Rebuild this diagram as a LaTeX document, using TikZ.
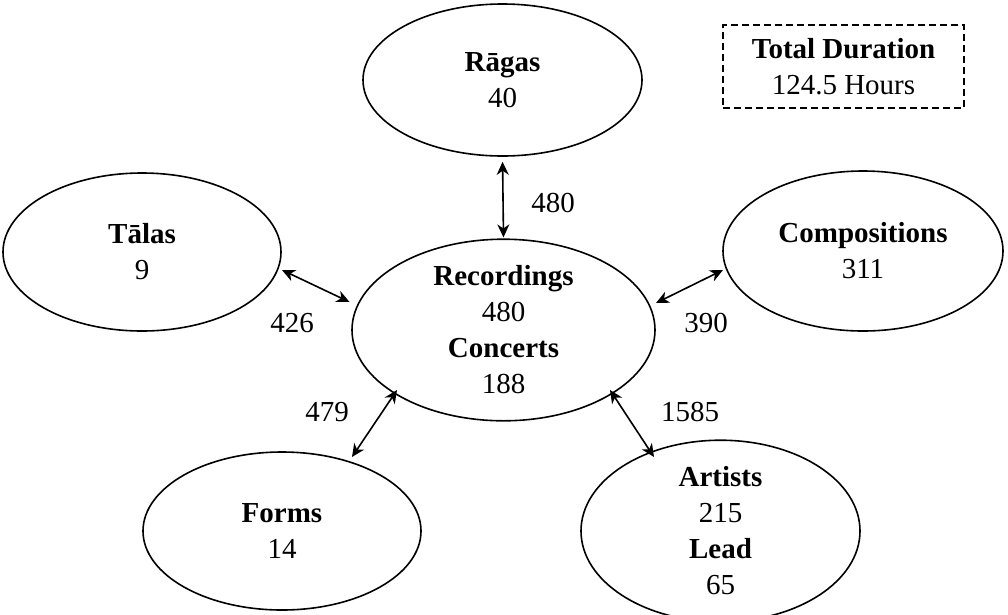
\documentclass[tikz,border=0pt]{standalone}
\usepackage{fontspec}
\setmainfont{Liberation Serif}
\usetikzlibrary{shapes.geometric,arrows.meta,calc}
\tikzset{
  ent/.style={ellipse,draw,line width=1.6pt,inner sep=0pt,align=center,
    font=\fontsize{29}{36}\selectfont},
  link/.style={line width=1.6pt,{Stealth[length=13pt,width=12pt,inset=4pt]}-{Stealth[length=13pt,width=12pt,inset=4pt]}},
  num/.style={font=\fontsize{29}{36}\selectfont,inner sep=0pt},
  totbox/.style={draw,line width=1.3pt,dash pattern=on 7pt off 4pt,align=center,
    minimum width=241pt,minimum height=83pt,inner sep=0pt,font=\fontsize{29}{36}\selectfont}
}
\begin{document}
\begin{tikzpicture}[x=1pt,y=-1pt]
\useasboundingbox (0,0) rectangle (1008,614);
\node[ent,minimum width=279pt,minimum height=152pt] (rag) at (502.5,80) {\textbf{Rāgas}\\40};
\node[ent,minimum width=278pt,minimum height=158pt] (tal) at (142,252) {\textbf{Tālas}\\9};
\node[ent,minimum width=280pt,minimum height=160pt] (com) at (863,251) {\textbf{Compositions}\\311};
\node[ent,minimum width=303pt,minimum height=168pt] (rec) at (503.5,330) {\textbf{Recordings}\\480\\\textbf{Concerts}\\188};
\node[ent,minimum width=278pt,minimum height=158pt] (frm) at (282,531) {\textbf{Forms}\\14};
\node[ent,minimum width=279pt,minimum height=158pt] (art) at (720.5,531) {\textbf{Artists}\\215\\\textbf{Lead}\\65};
\node[totbox] (tot) at (843.5,66.5) {\textbf{Total Duration}\\124.5 Hours};

\draw[link,shorten <=5pt,shorten >=1pt] (rag.south) -- (rec.north);
\draw[link] ($(tal.center)+(140,18)$) -- ($(rec.center)+(-154,-28)$);
\draw[link] ($(com.center)+(-140,19)$) -- ($(rec.center)+(152.5,-27)$);
\draw[link] ($(frm.center)+(70,-74)$) -- ($(rec.center)+(-106.5,60)$);
\draw[link] ($(art.center)+(-66.5,-74)$) -- ($(rec.center)+(106.5,60)$);

\node[num] (l1) at (553,203) {480};
\node[num] (l2) at (292,323) {426};
\node[num] (l3) at (706,323) {390};
\node[num] (l4) at (327,412) {479};
\node[num] (l5) at (690,412) {1585};
\end{tikzpicture}
\end{document}
